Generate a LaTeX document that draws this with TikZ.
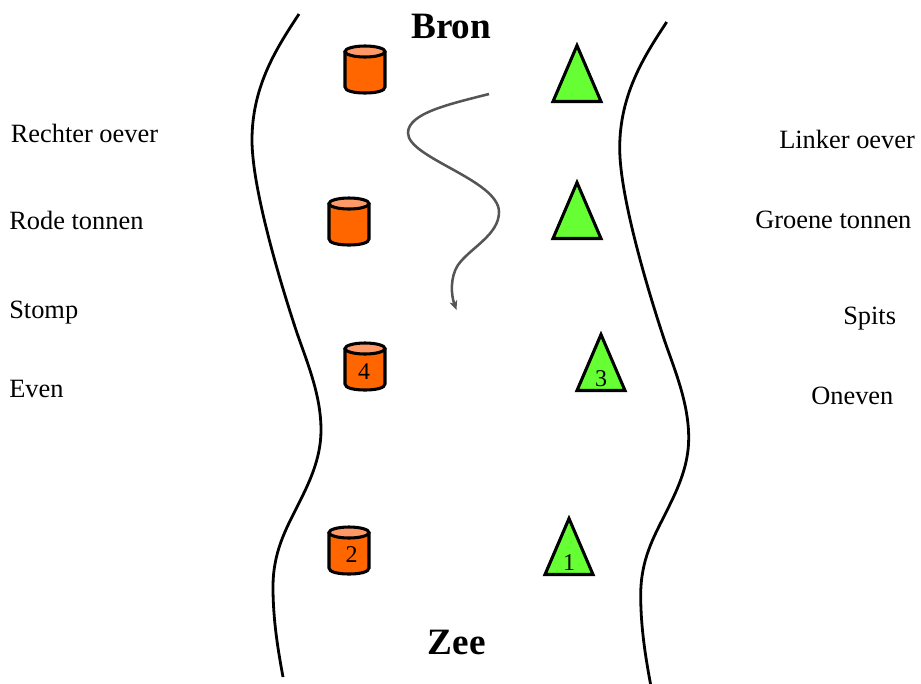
\documentclass[tikz,border=0pt]{standalone}
\usepackage{fontspec}
\setmainfont{Liberation Serif}
\usetikzlibrary{arrows.meta}
\definecolor{tonorange}{HTML}{FF6600}
\definecolor{tontop}{HTML}{FF9966}
\definecolor{tongreen}{HTML}{66FF33}
\definecolor{rivergray}{HTML}{555555}
\tikzset{
  x=0.75pt,y=-0.75pt,
  bank/.style={line width=2.1pt,black},
  river/.style={line width=1.9pt,draw=rivergray,-{Stealth[length=7pt,width=6pt,inset=2pt]}},
  outline/.style={line width=2.3pt,line join=miter,draw=black},
  lbl/.style={anchor=base west,inner sep=0pt,font=\fontsize{19.8pt}{22pt}\selectfont},
  title/.style={anchor=base west,inner sep=0pt,font=\fontsize{27.9pt}{30pt}\selectfont\bfseries},
  num/.style={anchor=base,inner sep=0pt,font=\fontsize{18pt}{20pt}\selectfont},
  tonne/.pic={
    \draw[outline,fill=tonorange] (-20,6.5) -- (-20,42) .. controls (-20,46) and (-11,48) .. (0,48) .. controls (11,48) and (20,46) .. (20,42) -- (20,6.5);
    \draw[outline,fill=tontop] (0,6.5) ellipse [x radius=20,y radius=5.5];
  },
  driehoek/.pic={
    \draw[outline,fill=tongreen] (0,1.5) -- (24,57.5) -- (-24,57.5) -- cycle;
  },
  oever/.pic={
    \draw[bank] (299,14) .. controls (278,46) and (252,85) .. (252,140)
      .. controls (252,190) and (282,288) .. (297,333)
      .. controls (307,362) and (321,395) .. (321,430)
      .. controls (321,460) and (308,485) .. (297,507)
      .. controls (286,529) and (273,552) .. (273,587)
      .. controls (273,620) and (278,650) .. (283,677);
  }
}
\begin{document}
\begin{tikzpicture}
\useasboundingbox (0,0) rectangle (921,683);
% banks
\pic at (0,0) {oever};
\pic at (367.7,8) {oever};
% river
\coordinate (rs) at (489,94);
\coordinate (re) at (456.5,310);
\draw[river] (rs) .. controls (450,104) and (408,113) .. (408,133)
  .. controls (408,158) and (499,180) .. (499,212)
  .. controls (499,235) and (470,248) .. (458,265)
  .. controls (450,277) and (451,295) .. (re);
% buoys
\pic at (365,45) {tonne};
\pic at (349,197) {tonne};
\pic at (365,342) {tonne};
\pic at (349,526) {tonne};
\pic at (577,44) {driehoek};
\pic at (577,181) {driehoek};
\pic at (601,333) {driehoek};
\pic at (569,517) {driehoek};
\node[num] (n4) at (364,379) {4};
\node[num] (n2) at (351.5,562) {2};
\node[num] (n3) at (601,386) {3};
\node[num] (n1) at (569,570) {1};
% labels
\node[title] (bron) at (411,38) {Bron};
\node[title] (zee) at (427.5,654) {Zee};
\node[lbl] (a) at (10.5,142) {Rechter oever};
\node[lbl] (b) at (9,229) {Rode tonnen};
\node[lbl] (c) at (9,318) {Stomp};
\node[lbl] (d) at (9,397) {Even};
\node[lbl] (e) at (779,148) {Linker oever};
\node[lbl] (f) at (755,228) {Groene tonnen};
\node[lbl] (g) at (843,324) {Spits};
\node[lbl] (h) at (811,404) {Oneven};
\end{tikzpicture}
\end{document}
